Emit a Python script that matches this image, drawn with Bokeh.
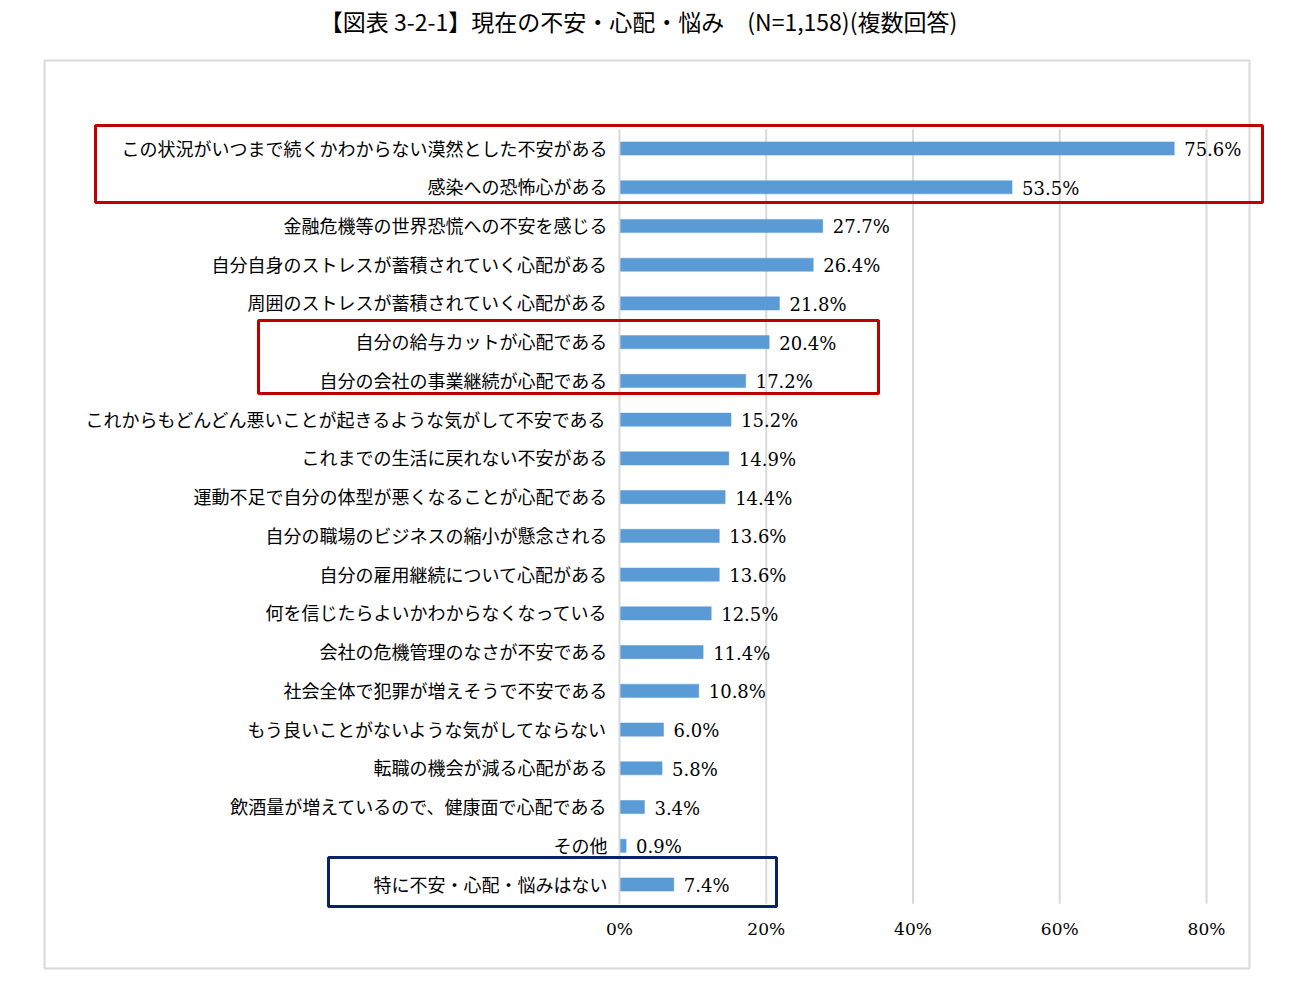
from bokeh.plotting import figure
from bokeh.models import Range1d
from bokeh.core.properties import value
from bokeh.embed import file_html
from bokeh.resources import INLINE

# ---------------- data ----------------
title_text = "【図表 3-2-1】現在の不安・心配・悩み　(N=1,158)(複数回答)"

categories = [
    "この状況がいつまで続くかわからない漠然とした不安がある",
    "感染への恐怖心がある",
    "金融危機等の世界恐慌への不安を感じる",
    "自分自身のストレスが蓄積されていく心配がある",
    "周囲のストレスが蓄積されていく心配がある",
    "自分の給与カットが心配である",
    "自分の会社の事業継続が心配である",
    "これからもどんどん悪いことが起きるような気がして不安である",
    "これまでの生活に戻れない不安がある",
    "運動不足で自分の体型が悪くなることが心配である",
    "自分の職場のビジネスの縮小が懸念される",
    "自分の雇用継続について心配がある",
    "何を信じたらよいかわからなくなっている",
    "会社の危機管理のなさが不安である",
    "社会全体で犯罪が増えそうで不安である",
    "もう良いことがないような気がしてならない",
    "転職の機会が減る心配がある",
    "飲酒量が増えているので、健康面で心配である",
    "その他",
    "特に不安・心配・悩みはない",
]
values = [75.6, 53.5, 27.7, 26.4, 21.8, 20.4, 17.2, 15.2, 14.9, 14.4,
          13.6, 13.6, 12.5, 11.4, 10.8, 6.0, 5.8, 3.4, 0.9, 7.4]
x_ticks = [0, 20, 40, 60, 80]
tick_labels = ["0%", "20%", "40%", "60%", "80%"]

# ---------------- layout (pixels) ----------------
W, H = 1299, 981
X0 = 619.0                       # pixel of 0 %
PX_PER_PCT = (1206.0 - 619.0) / 80.0
Y0 = 148.0                       # pixel of first row
ROW = (884.0 - 148.0) / 19.0


def xd(px):
    return (px - X0) / PX_PER_PCT


def yd(py):
    return (py - Y0) / ROW


idx = list(range(len(categories)))
value_labels = [f"{v:.1f}%" for v in values]

p = figure(width=W, height=H, output_backend="svg", toolbar_location=None,
           x_range=Range1d(xd(0), xd(W)), y_range=Range1d(yd(H), yd(0)),
           x_axis_location=None, y_axis_location=None,
           min_border=0, min_border_left=0, min_border_right=0,
           min_border_top=0, min_border_bottom=0,
           outline_line_color=None, background_fill_color="white",
           border_fill_color="white")
p.grid.visible = False

JP = value("Noto Sans CJK JP")
NUM = value("DejaVu Serif")

# outer frame
p.quad(left=[xd(44)], right=[xd(1249)], top=[yd(60)], bottom=[yd(968)],
       fill_color=None, line_color="#d9d9d9", line_width=2)

# grid lines
p.segment(x0=x_ticks, x1=x_ticks, y0=[-0.5] * len(x_ticks), y1=[len(categories) - 0.5] * len(x_ticks),
          line_color="#d9d9d9", line_width=2)

# bars
p.hbar(y=idx, left=0.15, right=values, height=0.34,
       fill_color="#5b9bd5", line_color="#5b9bd5", line_width=0.5)

# value labels
p.text(x=values, y=idx, text=value_labels, x_offset=10, y_offset=1,
       text_baseline="middle", text_align="left",
       text_font=NUM, text_font_size="18px", text_color="#000000")

# category labels
p.text(x=[0] * len(categories), y=idx, text=categories, x_offset=-12, y_offset=-1,
       text_baseline="middle", text_align="right",
       text_font=JP, text_font_size="18px", text_color="#000000")

# x tick labels
p.text(x=x_ticks, y=[len(categories) - 0.5] * len(x_ticks), text=tick_labels,
       y_offset=25, text_baseline="middle", text_align="center",
       text_font=NUM, text_font_size="17px", text_color="#000000")

# title
p.text(x=[xd(638)], y=[yd(20)], text=[title_text],
       text_baseline="middle", text_align="center",
       text_font=JP, text_font_size="23px", text_color="#000000")

# highlight boxes
p.quad(left=[xd(95), xd(258)], right=[xd(1262), xd(878)],
       top=[yd(125), yd(320)], bottom=[yd(202), yd(393)],
       fill_color=None, line_color="#c00000", line_width=3)
p.quad(left=[xd(328)], right=[xd(776)], top=[yd(857)], bottom=[yd(906)],
       fill_color=None, line_color="#0a2463", line_width=3)

open("out.html", "w").write(file_html(p, INLINE))
